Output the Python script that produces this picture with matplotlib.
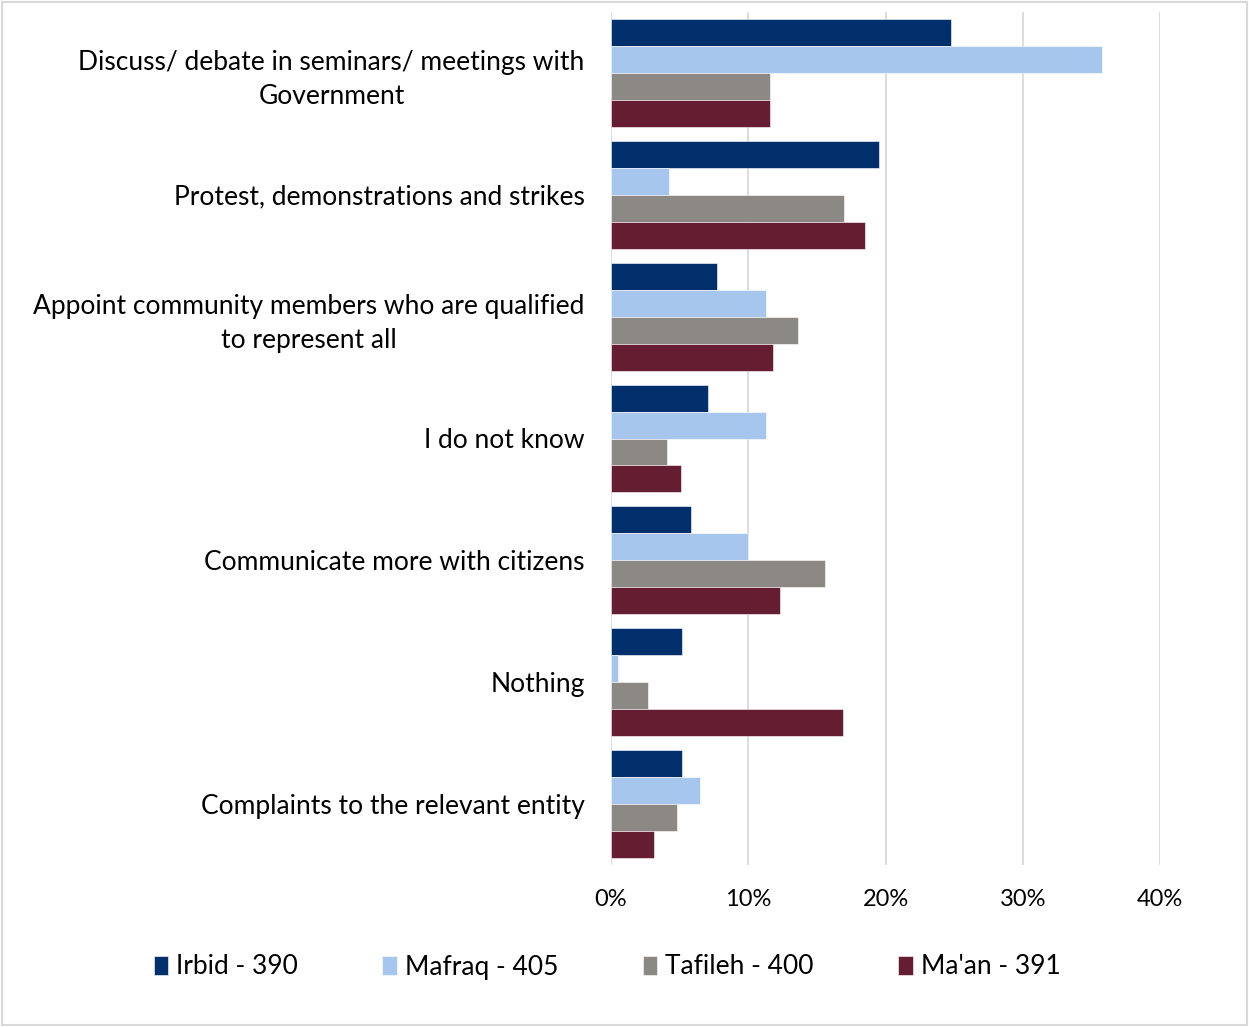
import matplotlib.pyplot as plt
import numpy as np
from matplotlib.patches import Rectangle

plt.rcParams['font.family'] = ['Lato', 'DejaVu Sans']

# Survey answers, shares per governorate
categories = [
    'Discuss/ debate in seminars/ meetings with\nGovernment',
    'Protest, demonstrations and strikes',
    'Appoint community members who are qualified\nto represent all',
    'I do not know',
    'Communicate more with citizens',
    'Nothing',
    'Complaints to the relevant entity',
]
series_names = ['Irbid - 390', 'Mafraq - 405', 'Tafileh - 400', "Ma'an - 391"]
irbid = [24.8, 19.5, 7.7, 7.1, 5.8, 5.2, 5.2]
mafraq = [35.8, 4.2, 11.3, 11.3, 10.0, 0.5, 6.5]
tafileh = [11.6, 17.0, 13.6, 4.1, 15.6, 2.7, 4.8]
maan = [11.6, 18.5, 11.8, 5.1, 12.3, 16.9, 3.1]
colors = ['#002F6C', '#A7C6ED', '#8C8985', '#651D32']

values = [irbid, mafraq, tafileh, maan]

fig = plt.figure(figsize=(12.49, 10.27), dpi=100)
ax = fig.add_axes([611 / 1249, 1 - 865 / 1027, (1160 - 611) / 1249, (865 - 12) / 1027])

n_cat = len(categories)
y = np.arange(n_cat)
bar_h = 27 / 122
for i, (vals, name, col) in enumerate(zip(values, series_names, colors)):
    offs = (i - 1.5) * bar_h
    ax.barh(y + offs, np.array(vals) / 100, height=bar_h, color=col,
            label=name, edgecolor='white', linewidth=0.4)

ax.set_ylim(n_cat - 0.5, -0.5)
ax.set_xlim(0, 0.4)
ax.set_xticks([0, 0.1, 0.2, 0.3, 0.4])
ax.set_xticklabels(['0%', '10%', '20%', '30%', '40%'], fontsize=17)
ax.set_yticks(y)
ax.set_yticklabels(categories, fontsize=19, ha='right', multialignment='center',
                   linespacing=1.45)
ax.tick_params(axis='y', length=0, pad=19)
ax.tick_params(axis='x', length=0, pad=17)
ax.grid(axis='x', color='#D9D9D9', linewidth=1.3)
ax.set_axisbelow(True)
for s in ax.spines.values():
    s.set_visible(False)

fig.legend(loc='center', bbox_to_anchor=(0.486, 1 - 967 / 1027), ncol=4,
           frameon=False, fontsize=19, handlelength=0.55, handleheight=0.75,
           handletextpad=0.3, columnspacing=3.2)

# light border round the whole chart
fig.patches.append(Rectangle((0.002, 0.002), 0.996, 0.996, transform=fig.transFigure,
                             fill=False, edgecolor='#D9D9D9', linewidth=1.5))

fig.savefig('out.png', dpi=100)
